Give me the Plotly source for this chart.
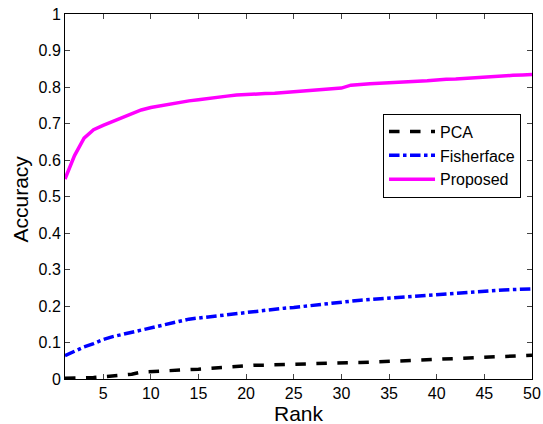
import plotly.graph_objects as go

rank = list(range(1, 51))
pca = [0.002, 0.002, 0.003, 0.004, 0.006, 0.008, 0.010, 0.013, 0.019, 0.020,
       0.021, 0.022, 0.023, 0.025, 0.027, 0.029, 0.031, 0.033, 0.035, 0.037,
       0.038, 0.038, 0.039, 0.039, 0.040, 0.040, 0.041, 0.042, 0.043, 0.044,
       0.045, 0.045, 0.046, 0.047, 0.048, 0.049, 0.050, 0.052, 0.054, 0.055,
       0.056, 0.057, 0.058, 0.059, 0.060, 0.061, 0.062, 0.063, 0.064, 0.065]
fisherface = [0.064, 0.076, 0.088, 0.097, 0.108, 0.116, 0.122, 0.128, 0.136, 0.142,
              0.148, 0.154, 0.160, 0.164, 0.167, 0.170, 0.173, 0.176, 0.180, 0.184,
              0.186, 0.189, 0.192, 0.194, 0.196, 0.199, 0.202, 0.205, 0.209, 0.212,
              0.214, 0.216, 0.218, 0.220, 0.222, 0.224, 0.226, 0.228, 0.229, 0.230,
              0.232, 0.234, 0.236, 0.239, 0.241, 0.243, 0.244, 0.245, 0.246, 0.247]
proposed = [0.548, 0.612, 0.660, 0.683, 0.695, 0.706, 0.716, 0.727, 0.737, 0.744,
            0.749, 0.752, 0.757, 0.762, 0.765, 0.769, 0.772, 0.775, 0.778, 0.780,
            0.781, 0.782, 0.783, 0.785, 0.787, 0.790, 0.792, 0.794, 0.795, 0.797,
            0.805, 0.808, 0.809, 0.810, 0.812, 0.814, 0.815, 0.816, 0.817, 0.820,
            0.821, 0.822, 0.824, 0.825, 0.828, 0.830, 0.831, 0.832, 0.833, 0.834]

x_ticks = [5, 10, 15, 20, 25, 30, 35, 40, 45, 50]
y_ticks = [0, 0.1, 0.2, 0.3, 0.4, 0.5, 0.6, 0.7, 0.8, 0.9, 1]
y_tick_labels = ["0", "0.1", "0.2", "0.3", "0.4", "0.5", "0.6", "0.7", "0.8", "0.9", "1"]

fig = go.Figure()
fig.add_trace(go.Scatter(x=rank, y=pca, mode="lines", name="PCA",
                         line=dict(color="black", width=3.5, dash="dash")))
fig.add_trace(go.Scatter(x=rank, y=fisherface, mode="lines", name="Fisherface",
                         line=dict(color="#0000FF", width=3.5, dash="dashdot")))
fig.add_trace(go.Scatter(x=rank, y=proposed, mode="lines", name="Proposed",
                         line=dict(color="#FF00FF", width=3.5)))

font = "Liberation Sans, Arial, sans-serif"
fig.update_layout(
    width=543, height=424,
    margin=dict(l=65, r=11, t=14, b=44.5, autoexpand=False),
    paper_bgcolor="white", plot_bgcolor="white",
    font=dict(family=font, size=16, color="black"),
    showlegend=True,
    legend=dict(x=0.681, y=0.727, xanchor="left", yanchor="top",
                bordercolor="black", borderwidth=1, bgcolor="white",
                font=dict(size=16), tracegroupgap=0, itemwidth=46,
                entrywidth=91, entrywidthmode="pixels"),
    annotations=[
        dict(text="Rank", xref="paper", yref="paper", x=0.5, y=0,
             xanchor="center", yanchor="middle", yshift=-34, showarrow=False,
             font=dict(size=21)),
        dict(text="Accuracy", xref="paper", yref="paper", x=0, y=0.5,
             xanchor="center", yanchor="middle", xshift=-45, yshift=-3,
             textangle=-90, showarrow=False, font=dict(size=21)),
    ],
)
fig.update_xaxes(range=[1, 50], tickvals=x_ticks, ticks="inside", ticklen=5,
                 showline=True, linecolor="black", linewidth=1, mirror="ticks",
                 showgrid=False, zeroline=False, automargin=False,
                 ticklabeloverflow="allow")
fig.update_yaxes(range=[0, 1], tickvals=y_ticks, ticktext=y_tick_labels,
                 ticks="inside", ticklen=5,
                 showline=True, linecolor="black", linewidth=1, mirror="ticks",
                 showgrid=False, zeroline=False, automargin=False,
                 ticklabeloverflow="allow")

fig.write_html("out.html", config={"displayModeBar": False},
               post_script="document.body.style.margin='0';")
